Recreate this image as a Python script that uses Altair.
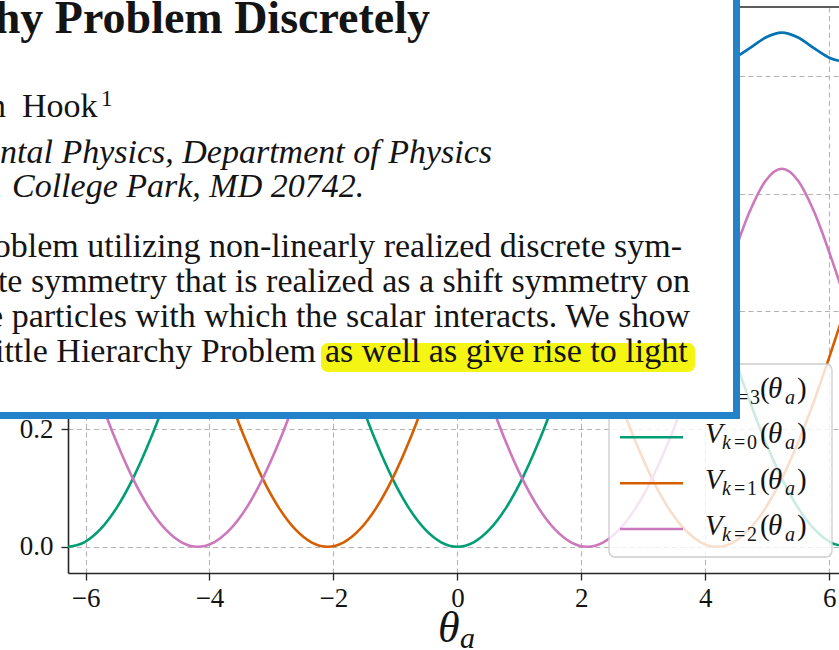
import altair as alt
import pandas as pd

SERIF = "Liberation Serif"
INK = "#141414"

# theta_a sample points (radians), every 15 degrees from -2*pi to 2*pi
theta = [-6.283, -6.021, -5.760, -5.498, -5.236, -4.974, -4.712, -4.451, -4.189, -3.927, -3.665, -3.403,
         -3.142, -2.880, -2.618, -2.356, -2.094, -1.833, -1.571, -1.309, -1.047, -0.785, -0.524, -0.262,
         0.000, 0.262, 0.524, 0.785, 1.047, 1.309, 1.571, 1.833, 2.094, 2.356, 2.618, 2.880,
         3.142, 3.403, 3.665, 3.927, 4.189, 4.451, 4.712, 4.974, 5.236, 5.498, 5.760, 6.021, 6.283]

# total potential V_{N=3}
v_sum = [0.8236, 0.8301, 0.8469, 0.8653, 0.8736, 0.8653, 0.8469, 0.8301,
         0.8236, 0.8301, 0.8469, 0.8653, 0.8736, 0.8653, 0.8469, 0.8301,
         0.8236, 0.8301, 0.8469, 0.8653, 0.8736, 0.8653, 0.8469, 0.8301,
         0.8236, 0.8301, 0.8469, 0.8653, 0.8736, 0.8653, 0.8469, 0.8301,
         0.8236, 0.8301, 0.8469, 0.8653, 0.8736, 0.8653, 0.8469, 0.8301,
         0.8236, 0.8301, 0.8469, 0.8653, 0.8736, 0.8653, 0.8469, 0.8301,
         0.8236]

v_k0 = [0.0, 0.0075, 0.0297, 0.066, 0.1157, 0.1773, 0.249, 0.3283, 0.4118, 0.4943, 0.5682, 0.622,
        0.6422, 0.622, 0.5682, 0.4943, 0.4118, 0.3283, 0.249, 0.1773, 0.1157, 0.066, 0.0297, 0.0075,
        0.0, 0.0075, 0.0297, 0.066, 0.1157, 0.1773, 0.249, 0.3283, 0.4118, 0.4943, 0.5682, 0.622,
        0.6422, 0.622, 0.5682, 0.4943, 0.4118, 0.3283, 0.249, 0.1773, 0.1157, 0.066, 0.0297, 0.0075,
        0.0]

v_k1 = [0.4118, 0.4943, 0.5682, 0.622, 0.6422, 0.622, 0.5682, 0.4943, 0.4118, 0.3283, 0.249, 0.1773,
        0.1157, 0.066, 0.0297, 0.0075, 0.0, 0.0075, 0.0297, 0.066, 0.1157, 0.1773, 0.249, 0.3283,
        0.4118, 0.4943, 0.5682, 0.622, 0.6422, 0.622, 0.5682, 0.4943, 0.4118, 0.3283, 0.249, 0.1773,
        0.1157, 0.066, 0.0297, 0.0075, 0.0, 0.0075, 0.0297, 0.066, 0.1157, 0.1773, 0.249, 0.3283,
        0.4118]

v_k2 = [0.4118, 0.3283, 0.249, 0.1773, 0.1157, 0.066, 0.0297, 0.0075, 0.0, 0.0075, 0.0297, 0.066,
        0.1157, 0.1773, 0.249, 0.3283, 0.4118, 0.4943, 0.5682, 0.622, 0.6422, 0.622, 0.5682, 0.4943,
        0.4118, 0.3283, 0.249, 0.1773, 0.1157, 0.066, 0.0297, 0.0075, 0.0, 0.0075, 0.0297, 0.066,
        0.1157, 0.1773, 0.249, 0.3283, 0.4118, 0.4943, 0.5682, 0.622, 0.6422, 0.622, 0.5682, 0.4943,
        0.4118]

series_values = [v_sum, v_k0, v_k1, v_k2]
series_colors = ["#0173b2", "#029e73", "#d55e00", "#cc78bc"]
legend_sub_letter = ["N", "k", "k", "k"]
legend_sub_value = ["3", "0", "1", "2"]

x_ticks = [-6, -4, -2, 0, 2, 4, 6]
y_ticks = [0.0, 0.2, 0.4, 0.6, 0.8]

# paper excerpt lying on top of the figure
paper_title = "Solving the Hierarchy Problem Discretely"
author_first = "Anson"
author_last = "Hook"
affil_1 = "Maryland Center for Fundamental Physics, Department of Physics"
affil_2a = "University of Maryland,"
affil_2b = "College Park,  MD 20742."
abstract_lines = [
    "Hierarchy Problem utilizing non-linearly realized discrete sym-",
    "of a discrete symmetry that is realized as a shift symmetry on",
    "on the particles with which the scalar interacts.  We show",
]
abstract_last_plain = "the Little Hierarchy Problem"
abstract_last_marked = "as well as give rise to light"

W, H = 771, 566
X_DOMAIN = [-6.2832, 6.158]
Y_DOMAIN = [-0.0447, 0.9172]
ONE = pd.DataFrame({"s": [""]})

x_enc = alt.X(
    "theta:Q",
    scale=alt.Scale(domain=X_DOMAIN, nice=False, zero=False),
    axis=alt.Axis(values=x_ticks, format="d", title=None, grid=True,
                  gridColor="#b3b3b3", gridDash=[5, 3.5], gridWidth=1.1,
                  domainColor="#262626", domainWidth=1.6,
                  tickColor="#262626", tickSize=7, tickWidth=1.3,
                  labelFont=SERIF, labelFontSize=27, labelColor=INK,
                  labelPadding=5, labelFlush=False),
)
y_enc = alt.Y(
    "v:Q",
    scale=alt.Scale(domain=Y_DOMAIN, nice=False, zero=False),
    axis=alt.Axis(values=y_ticks, format=".1f", title=None, grid=True,
                  gridColor="#b3b3b3", gridDash=[5, 3.5], gridWidth=1.1,
                  domainColor="#262626", domainWidth=1.6,
                  tickColor="#262626", tickSize=7, tickWidth=1.3,
                  labelFont=SERIF, labelFontSize=27, labelColor=INK,
                  labelPadding=8, labelFlush=False),
)


def text_at(s, x, y, size, style="normal", weight="normal", align="left", color=INK):
    return alt.Chart(pd.DataFrame({"s": [s]})).mark_text(
        align=align, baseline="alphabetic", font=SERIF, fontSize=size,
        fontStyle=style, fontWeight=weight, color=color,
    ).encode(x=alt.value(x), y=alt.value(y), text="s:N")


layers = []

# potential curves
for vals, color in zip(series_values, series_colors):
    df = pd.DataFrame({"theta": theta, "v": vals})
    layers.append(
        alt.Chart(df).mark_line(interpolate="monotone", strokeWidth=2.6, color=color, clip=True)
        .encode(x=x_enc, y=y_enc)
    )

# top spine
layers.append(
    alt.Chart(ONE).mark_rule(color="#262626", strokeWidth=1.6)
    .encode(x=alt.value(0), x2=alt.value(W), y=alt.value(0))
)

# x axis title: theta_a
layers.append(text_at("θ", 370, 635, 44, style="italic"))
layers.append(text_at("a", 392, 641, 30, style="italic"))

# legend
layers.append(
    alt.Chart(ONE).mark_rect(fill="white", fillOpacity=0.8, stroke="#cccccc",
                             strokeWidth=1.3, cornerRadius=6)
    .encode(x=alt.value(541), x2=alt.value(764), y=alt.value(357), y2=alt.value(550))
)
entry_y = [384.5, 430.3, 476.3, 522.0]
for yc, color, letter, val in zip(entry_y, series_colors, legend_sub_letter, legend_sub_value):
    layers.append(
        alt.Chart(ONE).mark_rule(color=color, strokeWidth=2.6)
        .encode(x=alt.value(552), x2=alt.value(615), y=alt.value(yc))
    )
    x0 = 637
    eq_dx = 32 if letter == "N" else 29
    layers += [
        text_at("V", x0, yc + 6, 29, style="italic"),
        text_at(letter, x0 + 17, yc + 12, 20, style="italic"),
        text_at("=", x0 + eq_dx, yc + 12, 20),
        text_at(val, x0 + eq_dx + 13, yc + 12, 20),
        text_at("(", x0 + 55, yc + 6, 29),
        text_at("θ", x0 + 63, yc + 6, 29, style="italic"),
        text_at("a", x0 + 80, yc + 12, 20, style="italic"),
        text_at(")", x0 + 92, yc + 6, 29),
    ]

# paper excerpt card on top
layers.append(
    alt.Chart(ONE).mark_rect(fill="white", stroke="#2483c8", strokeWidth=7)
    .encode(x=alt.value(-100), x2=alt.value(668.5), y=alt.value(-100), y2=alt.value(408.5))
)
layers.append(
    alt.Chart(ONE).mark_rect(fill="#f5f514", cornerRadius=7)
    .encode(x=alt.value(253), x2=alt.value(627), y=alt.value(336), y2=alt.value(365))
)
layers += [
    text_at(paper_title, 362, 26, 46, weight="bold", align="right"),
    text_at(author_first, -62, 110, 34, align="right"),
    text_at(author_last, -46, 110, 34),
    text_at("1", 33, 99, 23),
    text_at(affil_1, 424, 156, 34, style="italic", align="right"),
    text_at(affil_2a, -66, 190, 34, style="italic", align="right"),
    text_at(affil_2b, -56, 190, 34, style="italic"),
    text_at(abstract_lines[0], 614, 250, 34, align="right"),
    text_at(abstract_lines[1], 622, 285, 34, align="right"),
    text_at(abstract_lines[2], 622, 320, 34, align="right"),
    text_at(abstract_last_plain, 248, 355, 34, align="right"),
    text_at(abstract_last_marked, 257, 355, 34),
]

chart = (
    alt.layer(*layers)
    .properties(width=W, height=H,
                padding={"left": 68, "top": 7, "right": 0, "bottom": 77},
                autosize=alt.AutoSizeParams(type="none"),
                background="white")
    .configure_view(stroke=None)
)

chart.save("out.html", embed_options={"renderer": "svg", "actions": False})
